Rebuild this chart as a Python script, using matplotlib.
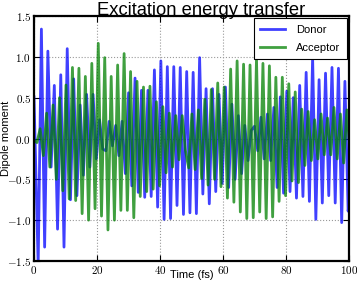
import numpy as np
import matplotlib
matplotlib.use('Agg')
import matplotlib.pyplot as plt
from matplotlib.ticker import FuncFormatter

plt.rcParams['font.family'] = ['Liberation Sans', 'DejaVu Sans']
plt.rcParams['mathtext.fontset'] = 'cm'

# extrema of each signal, one every half period
half_period = 1.025
donor_t0 = 1.325
acceptor_t0 = 0.93

donor_start = 0.51
donor_end = -0.80
donor_ext = [
    -1.55, 1.34, -1.33, 1.07, -0.35, 0.65, -1.11, 0.78, -1.33, 1.10,
    -0.75, 0.73, -0.70, 0.41, -0.45, 0.54, -0.35, 0.54, -0.25, 0.23,
    -0.13, -0.15, 0.21, -0.09, 0.16, -0.21, 0.21, -0.43, 0.56, -0.58,
    0.74, -0.66, 0.59, -0.72, 0.59, -0.71, 0.84, -0.84, 0.95, -0.99,
    0.88, -0.98, 0.88, -0.82, 0.87, -0.93, 0.82, -0.91, 0.81, -0.92,
    0.99, -0.68, 0.61, -0.80, 0.61, -0.65, 0.54, -0.55, 0.63, -0.60,
    0.42, -0.50, 0.28, -0.43, 0.16, -0.27, 0.10, 0.15, -0.15, 0.26,
    -0.25, 0.30, -0.27, 0.38, -0.60, 0.51, -0.67, 0.58, -0.65, 0.50,
    -0.73, 0.65, -0.71, 0.81, -0.77, 0.99, -0.99, 0.72, -0.79, 0.80,
    -0.70, 0.87, -0.79, 0.86, -1.03, 0.70, -0.89,
]

acceptor_start = -0.02
acceptor_end = 0.0
acceptor_ext = [
    -0.05, 0.12, -0.21, 0.31, -0.35, 0.41, -0.50, 0.50, -0.64, 0.655,
    -0.74, 0.87, -0.76, 0.86, -0.92, 0.76, -1.00, 0.92, -0.86, 1.165,
    -0.95, 0.99, -1.12, 0.76, -1.00, 0.90, -0.88, 1.04, -0.88, 0.82,
    -0.97, 0.70, -0.71, 0.63, -0.65, 0.64, -0.62, 0.45, -0.58, 0.39,
    -0.42, 0.31, -0.35, 0.28, -0.26, 0.28, -0.15, -0.36, 0.30, -0.38,
    0.35, -0.49, 0.48, -0.57, 0.60, -0.50, 0.68, -0.59, 0.63, -0.73,
    0.85, -0.78, 0.95, -0.90, 0.91, -0.98, 0.90, -0.97, 0.98, -0.90,
    0.92, -0.98, 0.89, -0.96, 0.75, -0.77, 0.75, -0.70, 0.67, -0.52,
    0.57, -0.54, 0.36, -0.33, 0.33, -0.27, 0.23, -0.25, 0.30, -0.20,
    0.25, -0.20, 0.38, -0.25, 0.30, -0.30, 0.35,
]


def build(t0, start, ext, end):
    t = t0 + half_period * np.arange(len(ext))
    t = np.concatenate([[0.0], t, [100.0]])
    v = np.concatenate([[start], ext, [end]])
    return t, v


td, vd = build(donor_t0, donor_start, donor_ext, donor_end)
ta, va = build(acceptor_t0, acceptor_start, acceptor_ext, acceptor_end)

fig = plt.figure(figsize=(3.57, 2.83), dpi=100)
ax = fig.add_axes([34 / 357, 22 / 283, 315 / 357, 245 / 283])

ax.plot(td, vd, color='b', alpha=0.75, lw=2, solid_joinstyle='round', label='Donor')
ax.plot(ta, va, color='g', alpha=0.75, lw=2, solid_joinstyle='round', label='Acceptor')

ax.set_xlim(0, 100)
ax.set_ylim(-1.5, 1.5)
ax.set_xticks([0, 20, 40, 60, 80, 100])
ax.set_yticks([-1.5, -1.0, -0.5, 0.0, 0.5, 1.0, 1.5])
ax.xaxis.set_major_formatter(FuncFormatter(lambda x, p: r'$%d$' % x))
ax.yaxis.set_major_formatter(FuncFormatter(lambda y, p: r'$%.1f$' % y))
ax.tick_params(direction='in', top=True, right=True, labelsize=8, length=4, width=0.8, pad=2)
ax.grid(True, ls=':', color='0.6', lw=0.8)
for s in ax.spines.values():
    s.set_linewidth(1.6)

ax.set_title('Excitation energy transfer', fontsize=13.2, pad=1, x=(201 - 34) / 315)
ax.set_xlabel('Time (fs)', fontsize=8, labelpad=-4)
ax.set_ylabel('Dipole moment', fontsize=8, labelpad=-3)

leg = ax.legend(loc='upper right', fontsize=8, fancybox=False, framealpha=1,
                edgecolor='k', borderaxespad=0.2, handlelength=2.2,
                labelspacing=0.7, borderpad=0.6, handletextpad=1.0)
leg.get_frame().set_linewidth(0.8)

fig.savefig('out.png', dpi=100)
